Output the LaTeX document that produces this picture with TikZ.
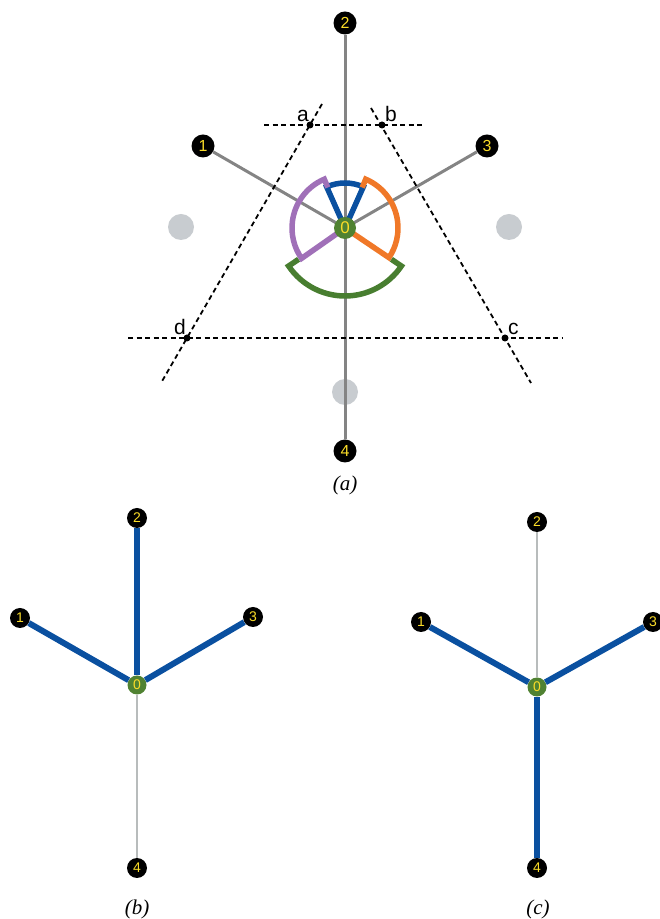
\documentclass[tikz,border=0pt]{standalone}
\usepackage{fontspec}
\setmainfont{Liberation Serif}
\setsansfont{Liberation Sans}
\usetikzlibrary{calc, positioning}
\definecolor{spokegray}{RGB}{132,132,132}
\definecolor{palegray}{RGB}{184,188,188}
\definecolor{dotgray}{RGB}{200,204,208}
\definecolor{numyellow}{RGB}{250,220,40}
\definecolor{hubgreen}{RGB}{80,130,50}
\definecolor{treeblue}{RGB}{10,80,160}
\definecolor{arcorange}{RGB}{240,120,40}
\definecolor{arcpurple}{RGB}{160,112,184}
\definecolor{arcgreen}{RGB}{72,126,48}

\begin{document}
\begin{tikzpicture}[x=1pt, y=1pt,
    vtx/.style={circle, fill=black, minimum size=#1, inner sep=0pt,
        text=numyellow, font=\sffamily\fontsize{16}{16}\selectfont},
    vtx/.default=23pt,
    hub/.style={circle, fill=hubgreen, minimum size=#1, inner sep=0pt,
        text=numyellow, font=\sffamily\fontsize{17}{17}\selectfont},
    hub/.default=22pt,
    small/.style={font=\sffamily\fontsize{14}{14}\selectfont},
    ghost/.style={circle, fill=dotgray, minimum size=26pt, inner sep=0pt},
    spoke/.style={draw=spokegray, line width=3pt},
    thinspoke/.style={draw=palegray, line width=2pt},
    treespoke/.style={draw=treeblue, line width=6pt},
    guide/.style={draw=black, line width=1.8pt, dash pattern=on 5pt off 3.5pt},
    wedge/.style={draw=#1, line width=5.5pt},
    cross/.style={circle, fill=black, minimum size=7pt, inner sep=0pt},
    ptlabel/.style={font=\sffamily\fontsize{21}{21}\selectfont},
    caption/.style={font=\fontsize{21}{21}\selectfont\itshape}
]
\useasboundingbox (0,0) rectangle (660,919);

% Panel (a): star with sectors
\coordinate (O) at (345,691);
\node[ghost] (g1) at (181,692) {};
\node[ghost] (g3) at (509,692) {};
\node[ghost] (g4) at (345,527) {};

\node[vtx] (a2) at (345,896) {2};
\node[vtx] (a1) at (203,773) {1};
\node[vtx] (a3) at (487,773) {3};
\node[vtx] (a4) at (345,468) {4};

\draw[spoke] (O) -- (a1);
\draw[spoke] (O) -- (a2);
\draw[spoke] (O) -- (a3);
\draw[spoke] (O) -- (a4);

% dashed guide lines
\coordinate (pa) at (310,794);
\coordinate (pb) at (382,794);
\coordinate (pc) at (505,581);
\coordinate (pd) at (187,581);
\draw[guide] (264,794) -- (425,794);
\draw[guide] (128,581) -- (562,581);
\draw[guide] (322,815) -- (161,536);
\draw[guide] (371,811) -- (531,536);
\node[cross] (ca) at (pa) {};
\node[cross] (cb) at (pb) {};
\node[cross] (cc) at (pc) {};
\node[cross] (cd) at (pd) {};
\node[ptlabel, above left=-3pt and -5pt of ca] (la) {a};
\node[ptlabel, above right=-3pt and -3pt of cb] (lb) {b};
\node[ptlabel, above right=-3pt and -3pt of cc] (lc) {c};
\node[ptlabel, above left=-3pt and -5pt of cd] (ld) {d};

% sectors
\draw[wedge=treeblue] (O) -- ($(O)+(66:45)$) arc[start angle=66, end angle=114, radius=45] -- cycle;
\draw[wedge=arcorange] ($(O)+(67:44)$) -- ($(O)+(67:53)$) arc[start angle=67, end angle=-34, radius=53] -- (O);
\draw[wedge=arcpurple] ($(O)+(113:44)$) -- ($(O)+(113:53)$) arc[start angle=113, end angle=215, radius=53] -- (O);
\draw[wedge=arcgreen] ($(O)+(214:56)$) -- ($(O)+(214:68)$) arc[start angle=214, end angle=326, radius=68] -- ($(O)+(326:56)$);

\node[hub] (a0) at (O) {0};
\node[caption] (capa) at (345,434) {(a)};

% Panel (b)
\node[vtx=20pt, small] (b2) at (137,401) {2};
\node[vtx=20pt, small] (b1) at (20,301) {1};
\node[vtx=20pt, small] (b3) at (253,302) {3};
\node[vtx=20pt, small] (b4) at (137,51) {4};
\node[hub=19pt, small] (b0) at (137,234) {0};
\draw[thinspoke] (b0) -- (b4);
\draw[treespoke] (b0) -- (b1);
\draw[treespoke] (b0) -- (b2);
\draw[treespoke] (b0) -- (b3);
\node[caption] (capb) at (137,10) {(b)};

% Panel (c)
\node[vtx=20pt, small] (c2) at (537,397) {2};
\node[vtx=20pt, small] (c1) at (421,297) {1};
\node[vtx=20pt, small] (c3) at (653,297) {3};
\node[vtx=20pt, small] (c4) at (537,51) {4};
\node[hub=19pt, small] (c0) at (537,232) {0};
\draw[thinspoke] (c0) -- (c2);
\draw[treespoke] (c0) -- (c1);
\draw[treespoke] (c0) -- (c3);
\draw[treespoke] (c0) -- (c4);
\node[caption] (capc) at (538,10) {(c)};

\end{tikzpicture}
\end{document}
